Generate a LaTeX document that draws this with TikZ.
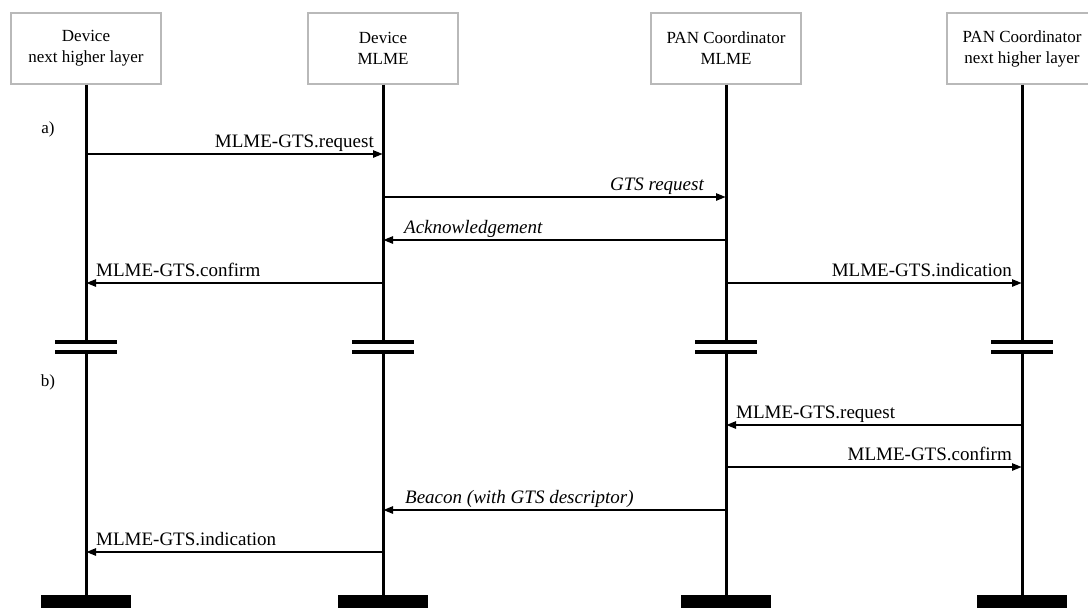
\documentclass[tikz,border=0pt]{standalone}
\usepackage{fontspec}
\setmainfont{Liberation Serif}
\usetikzlibrary{arrows.meta, positioning}
\definecolor{BoxGray}{RGB}{185,185,185}

\begin{document}
\begin{tikzpicture}[x=1pt, y=-1pt,
    headbox/.style={draw=BoxGray, line width=1.2pt, minimum width=150pt, minimum height=71pt,
      align=center, inner sep=2pt, font=\fontsize{17}{21}\selectfont},
    lifeline/.style={line width=3pt},
    endbar/.style={fill=black, minimum width=90pt, minimum height=16pt, inner sep=0pt, anchor=north},
    cutline/.style={line width=3.8pt},
    msg/.style={line width=2.4pt, -{Triangle[length=10pt, width=7pt]}},
    msglabel/.style={font=\fontsize{19}{22}\selectfont, inner sep=0pt, yshift=6.5pt},
    phase/.style={font=\fontsize{17}{20}\selectfont, inner sep=0pt}]
  \useasboundingbox (0,0) rectangle (1088,608);

  \node[headbox] (dn) at (86,48.5) {Device\\next higher layer};
  \node[headbox] (dm) at (383,48.5) {Device\\MLME};
  \node[headbox] (pm) at (726,48.5) {PAN Coordinator\\MLME};
  \node[headbox] (pn) at (1022,48.5) {PAN Coordinator\\next higher layer};

  \foreach \n/\x in {dn/86, dm/383, pm/726, pn/1022} {
    \coordinate (\n-cut1) at (\x,342);
    \coordinate (\n-cut2) at (\x,352);
    \node[endbar] (\n-end) at (\x,595) {};
    \draw[lifeline] (\n) -- (\n-cut1);
    \draw[lifeline] (\n-cut2) -- (\n-end);
    \draw[cutline] ([xshift=-31pt]\n-cut1) -- ([xshift=31pt]\n-cut1);
    \draw[cutline] ([xshift=-31pt]\n-cut2) -- ([xshift=31pt]\n-cut2);
  }

  \node[phase] (pa) at (48,129) {a)};
  \node[phase] (pb) at (48,382) {b)};

  \foreach \a/\b/\y/\t/\an/\sh in {
      dn/dm/154/MLME-GTS.request/base east/-8,
      dm/pm/197/\itshape GTS request/base east/-21,
      pm/dm/240/\itshape Acknowledgement/base west/20,
      dm/dn/283/MLME-GTS.confirm/base west/9,
      pm/pn/283/MLME-GTS.indication/base east/-9,
      pn/pm/425/MLME-GTS.request/base west/9,
      pm/pn/467/MLME-GTS.confirm/base east/-9,
      pm/dm/510/\itshape Beacon (with GTS descriptor)/base west/21,
      dm/dn/552/MLME-GTS.indication/base west/9} {
    \coordinate (\a-\y) at (\a |- 0,\y);
    \coordinate (\b-\y) at (\b |- 0,\y);
    \draw[msg] (\a-\y) -- (\b-\y) node[msglabel, anchor=\an, xshift=\sh pt] {\t};
  }
\end{tikzpicture}
\end{document}
